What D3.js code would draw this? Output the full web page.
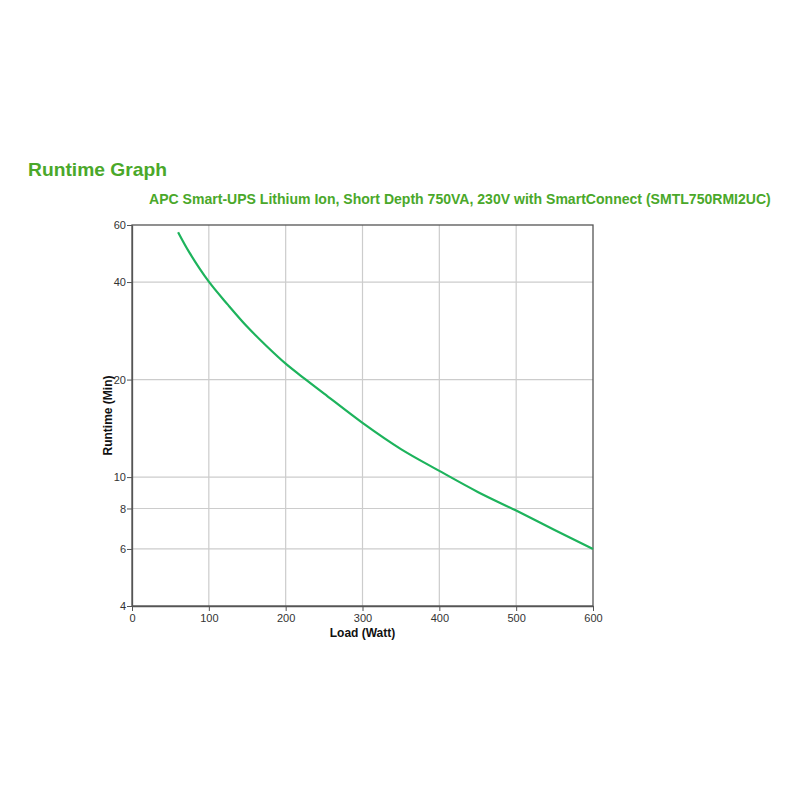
<!DOCTYPE html>
<html><head><meta charset="utf-8">
<script src="https://cdn.jsdelivr.net/npm/d3@7"></script>
<style>body{margin:0;background:#fff;} text{font-family:"Liberation Sans",Arial,sans-serif;}</style>
</head><body>
<svg id="c" width="800" height="800"></svg>
<script>
const title = "Runtime Graph";
const subtitle = "APC Smart-UPS Lithium Ion, Short Depth 750VA, 230V with SmartConnect (SMTL750RMI2UC)";
const xLabel = "Load (Watt)";
const yLabel = "Runtime (Min)";
const xTicks = [0,100,200,300,400,500,600];
const yTicks = [4,6,8,10,20,40,60];
const loads = [60,75,100,125,150,175,200,225,250,300,350,400,450,500,550,600];
const runtimes = [57,49.2,40.1,34.0,29.1,25.4,22.4,20.1,18.1,14.7,12.2,10.45,9.0,7.88,6.87,6.0];

const svg = d3.select("#c");
const m = {l:132, r:593, t:225, b:606};
const x = d3.scaleLinear().domain([0,600]).range([m.l,m.r]);
const y = d3.scaleLog().domain([4,60]).range([m.b,m.t]);
const green = "#4aa82a";

const tt = svg.append("text").attr("x",28).attr("y",176).attr("fill",green)
  .attr("font-size",20).attr("font-weight","bold").text(title);
tt.attr("font-size", 20*139/tt.node().getComputedTextLength());
const st = svg.append("text").attr("x",149).attr("y",204).attr("fill",green)
  .attr("font-size",14).attr("font-weight","bold").text(subtitle);
const w = st.node().getComputedTextLength();
st.attr("font-size", 14*622/w);

// grid
svg.append("g").selectAll("line").data(xTicks.slice(1,-1)).join("line")
  .attr("x1",d=>x(d)).attr("x2",d=>x(d)).attr("y1",m.t).attr("y2",m.b)
  .attr("stroke","#cccccc").attr("stroke-width",1.2);
svg.append("g").selectAll("line").data(yTicks.slice(1,-1)).join("line")
  .attr("y1",d=>y(d)).attr("y2",d=>y(d)).attr("x1",m.l).attr("x2",m.r)
  .attr("stroke","#cccccc").attr("stroke-width",1.2);

// frame
svg.append("rect").attr("x",m.l).attr("y",m.t).attr("width",m.r-m.l).attr("height",m.b-m.t)
  .attr("fill","none").attr("stroke","#555").attr("stroke-width",1.3);

// axes
const xa = svg.append("g").attr("transform",`translate(0,${m.b})`)
  .call(d3.axisBottom(x).tickValues(xTicks).tickSize(5).tickSizeOuter(0).tickFormat(d3.format("d")));
const ya = svg.append("g").attr("transform",`translate(${m.l},0)`)
  .call(d3.axisLeft(y).tickValues(yTicks).tickSize(5).tickSizeOuter(0).tickFormat(d3.format("d")));
[xa,ya].forEach(a=>{
  a.select(".domain").attr("stroke","#555").attr("stroke-width",1.3);
  a.selectAll(".tick line").attr("stroke","#555");
  a.selectAll(".tick text").attr("fill","#333").attr("font-size",11)
   .attr("font-family","Liberation Sans, Arial, sans-serif");
});
xa.selectAll(".tick text").attr("dy","0.9em").attr("y",6);
ya.selectAll(".tick text").attr("x",-6);

svg.append("text").attr("x",(m.l+m.r)/2).attr("y",637).attr("text-anchor","middle")
  .attr("font-size",12).attr("font-weight","bold").attr("fill","#111").text(xLabel);
svg.append("text").attr("transform",`translate(112,${(m.t+m.b)/2}) rotate(-90)`)
  .attr("text-anchor","middle").attr("font-size",12).attr("font-weight","bold").attr("fill","#111").text(yLabel);

const line = d3.line().x((d,i)=>x(loads[i])).y(d=>y(d)).curve(d3.curveCatmullRom.alpha(0.5));
svg.append("path").attr("d",line(runtimes)).attr("fill","none")
  .attr("stroke","#1db35c").attr("stroke-width",2.2);
</script>
</body></html>
